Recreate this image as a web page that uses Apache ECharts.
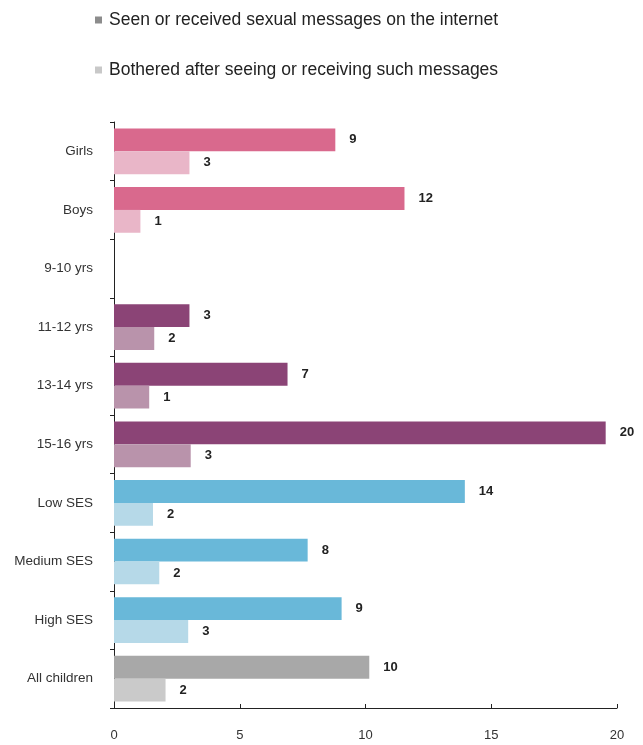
<!DOCTYPE html>
<html>
<head>
<meta charset="utf-8">
<script src="https://cdn.jsdelivr.net/npm/echarts@6/dist/echarts.min.js"></script>
<style>html,body{margin:0;padding:0;background:#fff;}#c{width:643px;height:745px;}</style>
</head>
<body>
<div id="c"></div>
<script>
const categories = ['Girls','Boys','9-10 yrs','11-12 yrs','13-14 yrs','15-16 yrs','Low SES','Medium SES','High SES','All children'];
const seenValues = [8.8, 11.55, null, 3.0, 6.9, 19.55, 13.95, 7.7, 9.05, 10.15];
const botheredValues = [3.0, 1.05, null, 1.6, 1.4, 3.05, 1.55, 1.8, 2.95, 2.05];
const seenLabels = ['9','12','','3','7','20','14','8','9','10'];
const botheredLabels = ['3','1','','2','1','3','2','2','3','2'];
const xTicks = [0, 5, 10, 15, 20];
const seriesNames = ['Seen or received sexual messages on the internet','Bothered after seeing or receiving such messages'];

const seenColors = ['#d9698d','#d9698d','#8b4476','#8b4476','#8b4476','#8b4476','#69b8d9','#69b8d9','#69b8d9','#a8a8a8'];
const botheredColors = ['#e9b6c8','#e9b6c8','#b993ab','#b993ab','#b993ab','#b993ab','#b6d9e8','#b6d9e8','#b6d9e8','#cacaca'];

const chart = echarts.init(document.getElementById('c'));
const font = 'Liberation Sans, Arial, sans-serif';
function mk(vals, colors, labels){
  return vals.map((v,i)=>({value:v, itemStyle:{color:colors[i]}, label:{formatter:labels[i]}}));
}
const lbl = {show:true, position:'right', distance:14, fontSize:13, fontWeight:'bold', color:'#222', fontFamily:font};
chart.setOption({
  animation:false,
  legend:{
    orient:'vertical', left:90, top:6, itemGap:32,
    icon:'rect', itemWidth:7, itemHeight:7,
    textStyle:{fontSize:17.5, color:'#222', fontFamily:font, padding:[0,0,0,2]},
    data:seriesNames
  },
  grid:{left:114, right:26, top:122, bottom:37, containLabel:false},
  xAxis:{
    type:'value', min:0, max:20, interval:5,
    axisLine:{show:true, lineStyle:{color:'#222', width:1}},
    axisTick:{show:true, inside:true, length:4, lineStyle:{color:'#222'}},
    splitLine:{show:false},
    axisLabel:{fontSize:13, color:'#333', fontFamily:font, margin:21,
      formatter:v=>xTicks.includes(v)?String(v):''}
  },
  yAxis:{
    type:'category', inverse:true, data:categories,
    axisLine:{show:true, lineStyle:{color:'#222', width:1}},
    axisTick:{show:true, length:4, lineStyle:{color:'#222'}},
    axisLabel:{fontSize:13.5, color:'#333', fontFamily:font, margin:21}
  },
  series:[
    {name:seriesNames[0], type:'bar', barGap:'0%', barCategoryGap:'22%',
     itemStyle:{color:'#8c8c8c'}, label:lbl,
     data:mk(seenValues, seenColors, seenLabels)},
    {name:seriesNames[1], type:'bar',
     itemStyle:{color:'#c8c8c8'}, label:lbl,
     data:mk(botheredValues, botheredColors, botheredLabels)}
  ]
});
</script>
</body>
</html>
